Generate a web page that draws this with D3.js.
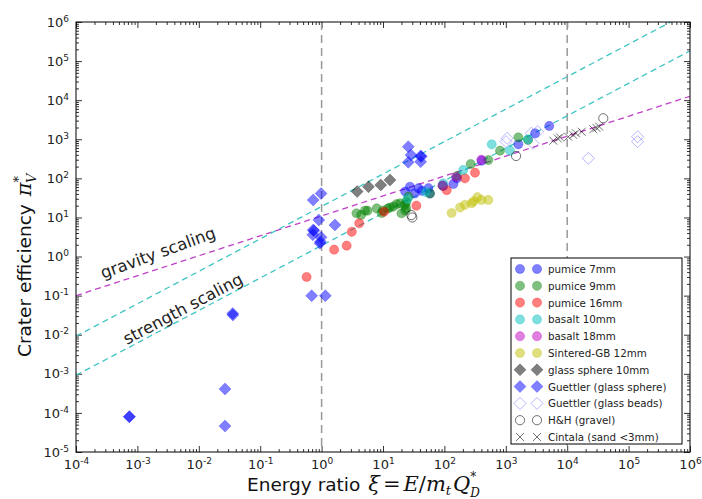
<!DOCTYPE html>
<html><head><meta charset="utf-8">
<script src="https://cdn.jsdelivr.net/npm/d3@7"></script>
<style>body{margin:0;background:#fff} svg{display:block}</style>
</head><body>
<svg id="chart" width="702" height="499"></svg>
<script>
// ---------- data ----------
const xTickExponents = [-4,-3,-2,-1,0,1,2,3,4,5,6];
const yTickExponents = [-5,-4,-3,-2,-1,0,1,2,3,4,5,6];
const verticalRefs = [1, 1e4];
// scaling laws: pi = coef * xi^exponent
const gravityLaw = [10.96, 0.51];
const strengthLawUpper = [19.1, 0.83];
const strengthLawLower = [1.91, 0.83];

const pumice7 = [[23,46],[27.5,61],[33,41],[38,56],[43,48],[55,56],[58,41],[96,64],[140,72],[160,100],[405,283],[1600,743],[3000,1420],[5100,2190]];
const pumice9 = [[3.7,12.8],[4.4,11.6],[5.1,15],[5.6,14.9],[7.9,17],[9.5,13],[10,15],[12,17],[13,18],[14.7,19],[16.7,22],[19,23],[20,12.8],[23,15],[22.8,21],[24,25],[26,34],[24,17],[58,41],[93,65],[160,115],[268,233],[519,295],[805,510],[1600,1120],[2300,960]];
const pumice16 = [[0.57,0.3],[1.6,1.5],[2.56,1.9],[3.1,4.3],[4.1,7.1],[10.4,14],[35,20],[109,50],[216,100],[315,140]];
const basalt10 = [[25,30],[50,45],[96,75],[203,164],[590,743],[1170,510],[2300,1000]];
const basalt18 = [[93,66],[155,108],[400,300]];
const sinteredGB = [[131,13],[180,18],[216,21],[278,23],[300,26],[345,33],[400,28],[519,28]];
const glassSphere10 = [[3.8,46],[5.8,61],[9.2,68],[13,91]];
const guettlerSphere = [[7.4e-4,8e-5],[7.4e-4,8e-5],[0.0356,0.035],[0.036,0.032],[0.0267,4.1e-4],[0.0267,4.6e-5],[0.69,0.1],[1.15,0.1],[0.73,28],[0.98,41],[0.9,8.6],[0.73,4.8],[0.75,4.6],[0.72,3.6],[0.98,3.1],[0.94,2.2],[0.96,2.4],[1.65,6.4],[25.8,646],[28.6,396],[41,373],[42,360],[25.8,258],[41,267]];
const guettlerBeads = [[1050,1060],[1010,870],[2600,1420],[3300,1560],[2780,790],[22100,326],[140000,1160],[140000,870]];
const hhGravel = [[30,10],[29,11.5],[1470,373],[38700,3440]];
const cintala = [[5940,920],[7000,1050],[7640,1120],[10400,1160],[12500,1300],[13900,1420],[17200,1560],[26600,1800],[30000,1950],[33300,2100]];

const legendLabels = ["pumice 7mm","pumice 9mm","pumice 16mm","basalt 10mm","basalt 18mm","Sintered-GB 12mm","glass sphere 10mm","Guettler (glass sphere)","Guettler (glass beads)","H&H (gravel)","Cintala (sand <3mm)"];

// ---------- styles ----------
const styles = [
  {data:pumice7, shape:'circle', color:'0,0,255'},
  {data:pumice9, shape:'circle', color:'0,128,0'},
  {data:pumice16, shape:'circle', color:'255,0,0'},
  {data:basalt10, shape:'circle', color:'0,191,191'},
  {data:basalt18, shape:'circle', color:'191,0,191'},
  {data:sinteredGB, shape:'circle', color:'191,191,0'},
  {data:glassSphere10, shape:'diamond', color:'0,0,0'},
  {data:guettlerSphere, shape:'diamond', color:'0,0,255'},
  {data:guettlerBeads, shape:'odiamond', color:'110,110,255'},
  {data:hhGravel, shape:'ocircle', color:'0,0,0'},
  {data:cintala, shape:'x', color:'0,0,0'}
];

const svg = d3.select('#chart');
const L=76, R=690, T=22, B=452;
const x = d3.scaleLog().domain([1e-4,1e6]).range([L,R]);
const y = d3.scaleLog().domain([1e-5,1e6]).range([B,T]);

svg.append('defs').append('clipPath').attr('id','clip')
  .append('rect').attr('x',L).attr('y',T).attr('width',R-L).attr('height',B-T);

const font = "'DejaVu Sans', sans-serif";
const serif = "'DejaVu Serif', serif";

function minors(lo,hi){const v=[];for(let d=lo;d<hi;d++)for(let k=2;k<=9;k++)v.push(k*Math.pow(10,d));return v;}
const xMaj = xTickExponents.map(e=>Math.pow(10,e));
const yMaj = yTickExponents.map(e=>Math.pow(10,e));
const xMin = minors(-4,6), yMin = minors(-5,6);

function styleAxis(g){g.select('.domain').remove();g.selectAll('line').attr('stroke','#000').attr('stroke-width',0.8);}
function supLabels(g){
  g.selectAll('text').each(function(d){
    const e=Math.round(Math.log10(d));
    const t=d3.select(this).text(null).attr('font-family',font).attr('font-size',13).attr('fill','#222');
    t.append('tspan').text('10');
    t.append('tspan').attr('dy','-0.55em').attr('font-size','9px').text(e<0?'-'+(-e):String(e));
  });
}

svg.append('g').attr('transform',`translate(0,${B})`)
  .call(d3.axisBottom(x).tickValues(xMaj).tickSizeInner(-6).tickSizeOuter(0).tickPadding(8).tickFormat(d=>d))
  .call(styleAxis).call(supLabels);
svg.append('g').attr('transform',`translate(0,${B})`)
  .call(d3.axisBottom(x).tickValues(xMin).tickSizeInner(-3).tickSizeOuter(0).tickFormat(''))
  .call(styleAxis);
svg.append('g').attr('transform',`translate(0,${T})`)
  .call(d3.axisTop(x).tickValues(xMaj).tickSizeInner(-6).tickSizeOuter(0).tickFormat(''))
  .call(styleAxis);
svg.append('g').attr('transform',`translate(0,${T})`)
  .call(d3.axisTop(x).tickValues(xMin).tickSizeInner(-3).tickSizeOuter(0).tickFormat(''))
  .call(styleAxis);
svg.append('g').attr('transform',`translate(${L},0)`)
  .call(d3.axisLeft(y).tickValues(yMaj).tickSizeInner(-6).tickSizeOuter(0).tickPadding(7).tickFormat(d=>d))
  .call(styleAxis).call(supLabels);
svg.append('g').attr('transform',`translate(${L},0)`)
  .call(d3.axisLeft(y).tickValues(yMin).tickSizeInner(-3).tickSizeOuter(0).tickFormat(''))
  .call(styleAxis);
svg.append('g').attr('transform',`translate(${R},0)`)
  .call(d3.axisRight(y).tickValues(yMaj).tickSizeInner(-6).tickSizeOuter(0).tickFormat(''))
  .call(styleAxis);
svg.append('g').attr('transform',`translate(${R},0)`)
  .call(d3.axisRight(y).tickValues(yMin).tickSizeInner(-3).tickSizeOuter(0).tickFormat(''))
  .call(styleAxis);

const plot = svg.append('g').attr('clip-path','url(#clip)');

verticalRefs.forEach(v=>{
  plot.append('line').attr('x1',x(v)).attr('x2',x(v)).attr('y1',T).attr('y2',B)
    .attr('stroke','#999').attr('stroke-width',1.5).attr('stroke-dasharray','8,5');
});

function law(p,color){
  const xs=[1e-4,1e6];
  const line=d3.line().x(d=>x(d)).y(d=>y(p[0]*Math.pow(d,p[1])));
  plot.append('path').attr('d',line(xs)).attr('fill','none').attr('stroke',color)
    .attr('stroke-width',1.3).attr('stroke-dasharray','6,4');
}
law(gravityLaw,'#c040c8');
law(strengthLawUpper,'#40c4c4');
law(strengthLawLower,'#40c4c4');

function drawMarker(g,shape,color,cx,cy){
  if(shape==='circle'){
    g.append('circle').attr('cx',cx).attr('cy',cy).attr('r',4.6)
      .attr('fill',`rgba(${color},0.5)`).attr('stroke',`rgba(${color},0.35)`).attr('stroke-width',0.8);
  } else if(shape==='diamond'){
    const s=6;
    g.append('path').attr('d',`M${cx},${cy-s}L${cx+s},${cy}L${cx},${cy+s}L${cx-s},${cy}Z`)
      .attr('fill',`rgba(${color},0.5)`).attr('stroke',`rgba(${color},0.3)`).attr('stroke-width',0.8);
  } else if(shape==='odiamond'){
    const s=6;
    g.append('path').attr('d',`M${cx},${cy-s}L${cx+s},${cy}L${cx},${cy+s}L${cx-s},${cy}Z`)
      .attr('fill','none').attr('stroke',`rgba(${color},0.5)`).attr('stroke-width',1);
  } else if(shape==='ocircle'){
    g.append('circle').attr('cx',cx).attr('cy',cy).attr('r',4.6)
      .attr('fill','none').attr('stroke',`rgba(${color},0.55)`).attr('stroke-width',1);
  } else if(shape==='x'){
    const s=4;
    g.append('path').attr('d',`M${cx-s},${cy-s}L${cx+s},${cy+s}M${cx-s},${cy+s}L${cx+s},${cy-s}`)
      .attr('fill','none').attr('stroke',`rgba(${color},0.55)`).attr('stroke-width',1);
  }
}
const marks = svg.append('g');
styles.forEach(st=>{
  const g=marks.append('g');
  st.data.forEach(d=>drawMarker(g,st.shape,st.color,x(d[0]),y(d[1])));
});

svg.append('text').attr('transform',`translate(158,253) rotate(-20)`).attr('text-anchor','middle')
  .attr('dominant-baseline','central').attr('font-family',font).attr('font-size',16.5).attr('fill','#222').text('gravity scaling');
svg.append('text').attr('transform',`translate(183,309) rotate(-28)`).attr('text-anchor','middle')
  .attr('dominant-baseline','central').attr('font-family',font).attr('font-size',16.5).attr('fill','#222').text('strength scaling');

svg.append('rect').attr('x',L).attr('y',T).attr('width',R-L).attr('height',B-T)
  .attr('fill','none').attr('stroke','#000').attr('stroke-width',1);

const lg = svg.append('g');
lg.append('rect').attr('x',511).attr('y',258).attr('width',171).attr('height',186)
  .attr('fill','#fff').attr('stroke','#000').attr('stroke-width',1);
legendLabels.forEach((lab,i)=>{
  const yy=269+i*16.8;
  drawMarker(lg,styles[i].shape,styles[i].color,520,yy);
  drawMarker(lg,styles[i].shape,styles[i].color,537,yy);
  lg.append('text').attr('x',548).attr('y',yy).attr('dominant-baseline','central')
    .attr('font-family',font).attr('font-size',10.3).attr('fill','#222').text(lab);
});

// axis labels
const xl = svg.append('text').attr('x',247).attr('y',491).attr('text-anchor','start')
  .attr('font-family',font).attr('font-size',18.5).attr('fill','#111');
xl.append('tspan').text('Energy ratio');
xl.append('tspan').attr('font-family',serif).attr('font-style','italic').attr('font-size',21).attr('dx',8).text('ξ');
xl.append('tspan').attr('font-family',serif).attr('font-size',21).attr('dx',3).text('=');
xl.append('tspan').attr('font-family',serif).attr('font-style','italic').attr('font-size',21).attr('dx',3).text('E');
xl.append('tspan').attr('font-family',serif).attr('font-size',21).text('/');
xl.append('tspan').attr('font-family',serif).attr('font-style','italic').attr('font-size',21).text('m');
xl.append('tspan').attr('font-family',serif).attr('font-style','italic').attr('font-size',13).attr('dy',4).text('t');
xl.append('tspan').attr('font-family',serif).attr('font-style','italic').attr('font-size',21).attr('dx',2).attr('dy',-4).text('Q');
xl.append('tspan').attr('font-family',serif).attr('font-size',12).attr('dy',-10).text('*');
xl.append('tspan').attr('font-family',serif).attr('font-style','italic').attr('font-size',12).attr('dx',-6).attr('dy',16).text('D');

const yl = svg.append('text').attr('transform','translate(31,357) rotate(-90)').attr('text-anchor','start')
  .attr('font-family',font).attr('font-size',18.5).attr('fill','#111');
yl.append('tspan').text('Crater efficiency');
yl.append('tspan').attr('font-family',serif).attr('font-style','italic').attr('font-size',21).attr('dx',8).text('π');
yl.append('tspan').attr('font-family',serif).attr('font-size',13).attr('dy',-8).text('*');
yl.append('tspan').attr('font-family',serif).attr('font-style','italic').attr('font-size',13).attr('dx',-7).attr('dy',13).text('V');
</script>
</body></html>
